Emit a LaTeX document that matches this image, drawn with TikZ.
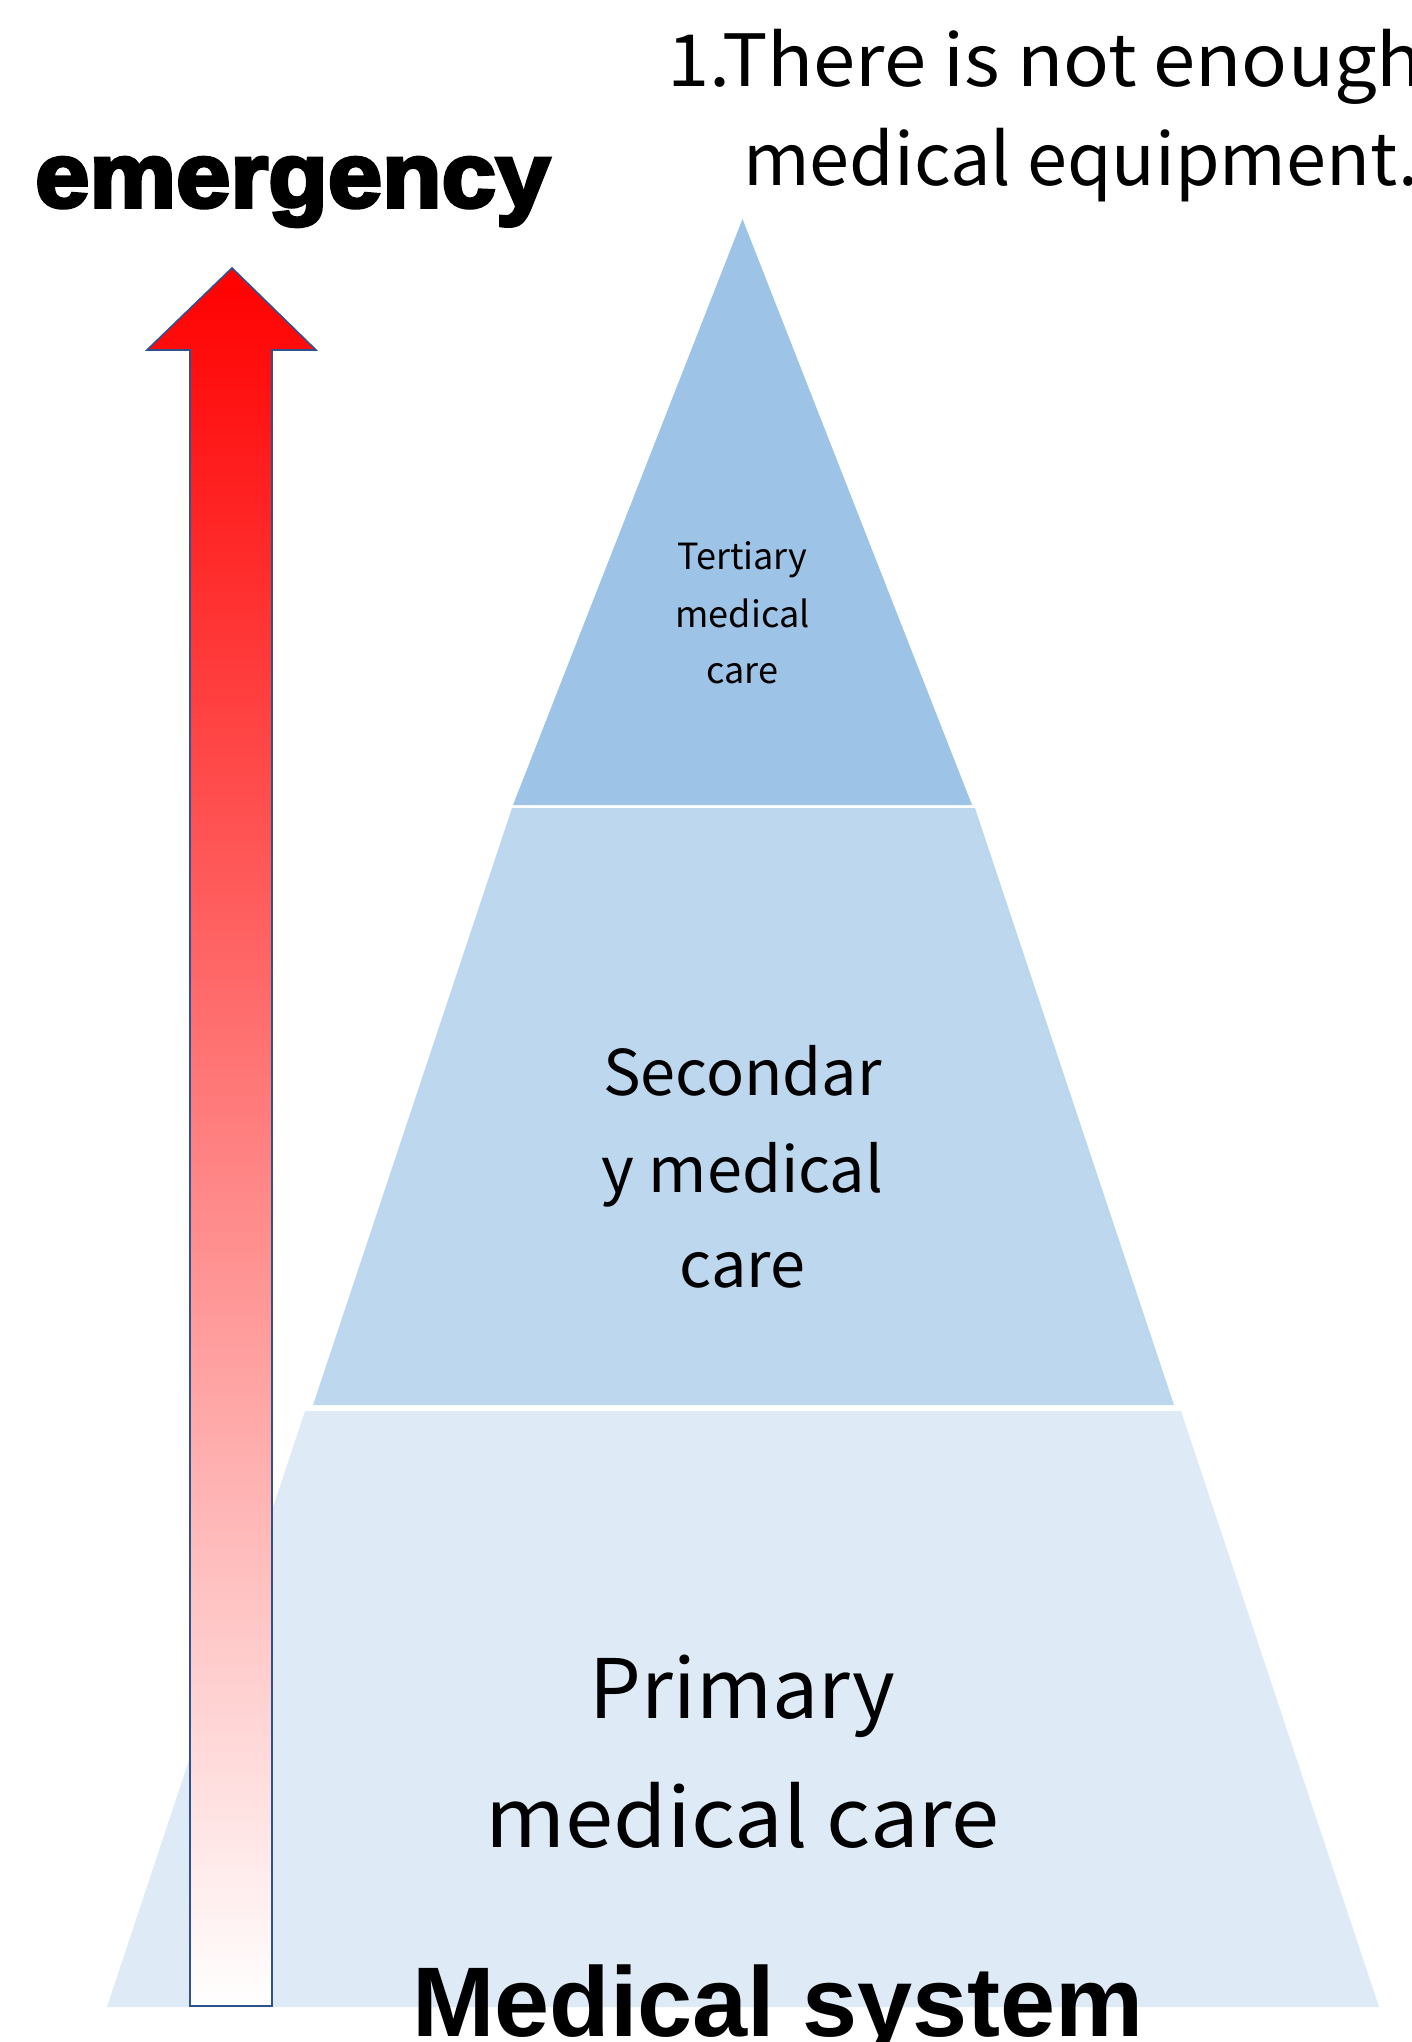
\documentclass[tikz,border=0pt]{standalone}
\usepackage{fontspec}
\newfontfamily\jpfont{Noto Sans CJK JP}
\newfontfamily\jpwide[FakeStretch=1.055]{Noto Sans CJK JP}
\newfontfamily\heavy[BoldFeatures={FakeBold=4,FakeStretch=1.06}]{Liberation Sans}
\newfontfamily\boldsans{Liberation Sans}
\definecolor{tercol}{HTML}{9DC3E6}
\definecolor{seccol}{HTML}{BDD7EE}
\definecolor{pricol}{HTML}{DEEBF7}
\definecolor{arrline}{HTML}{2F528F}
\tikzset{
  lvl/.style={draw=none},
  lbl/.style={anchor=base, inner sep=0pt, font=\jpfont, text=black},
}
\begin{document}
\begin{tikzpicture}[x=1pt,y=-1pt]
\useasboundingbox (0,0) rectangle (1412,2042);
\clip (0,0) rectangle (1412,2042);
\fill[white] (0,0) rectangle (1412,2042);
% pyramid levels
\fill[pricol] (305,1411) -- (1181,1411) -- (1379,2007) -- (107,2007) -- cycle;
\fill[seccol] (512,808) -- (975,808) -- (1174,1405) -- (313,1405) -- cycle;
\fill[tercol] (742.5,219) -- (972,805) -- (513,805) -- cycle;
% arrow
\coordinate (tip) at (232,268);
\shade[top color=red, bottom color=white]
  (tip) -- (316,350) -- (272,350) -- (272,2006) -- (190,2006) -- (190,350) -- (147,350) -- cycle;
\draw[arrline, line width=1.6pt, line join=miter]
  (tip) -- (316,350) -- (272,350) -- (272,2006) -- (190,2006) -- (190,350) -- (147,350) -- cycle;
% texts
\node[lbl, font=\jpfont\fontsize{36}{36}\selectfont] (t1) at (742.5,569) {Tertiary};
\node[lbl, font=\jpfont\fontsize{36}{36}\selectfont] (t2) at (742.5,627) {medical};
\node[lbl, font=\jpfont\fontsize{36}{36}\selectfont] (t3) at (742.5,683) {care};
\node[lbl, font=\jpfont\fontsize{63}{63}\selectfont] (s1) at (742.5,1095) {Secondar};
\node[lbl, font=\jpfont\fontsize{63}{63}\selectfont] (s2) at (742.5,1192) {y medical};
\node[lbl, font=\jpfont\fontsize{63}{63}\selectfont] (s3) at (742.5,1287) {care};
\node[lbl, font=\jpfont\fontsize{82}{82}\selectfont] (p1) at (742.5,1718) {Primary};
\node[lbl, font=\jpwide\fontsize{82}{82}\selectfont] (p2) at (742.5,1847) {medical care};
\node[lbl, anchor=base west, font=\jpwide\fontsize{72}{72}\selectfont] (q1) at (667,86) {1.There is not enough};
\node[lbl, anchor=base west, font=\jpfont\fontsize{72}{72}\selectfont] (q2) at (743,185) {medical equipment.};
\node[lbl, anchor=base west, font=\heavy\bfseries\fontsize{92}{92}\selectfont] (em) at (35,207) {emergency};
\node[lbl, anchor=base west, font=\boldsans\bfseries\fontsize{99}{99}\selectfont] (ms) at (412,2036) {Medical system};
\end{tikzpicture}
\end{document}
